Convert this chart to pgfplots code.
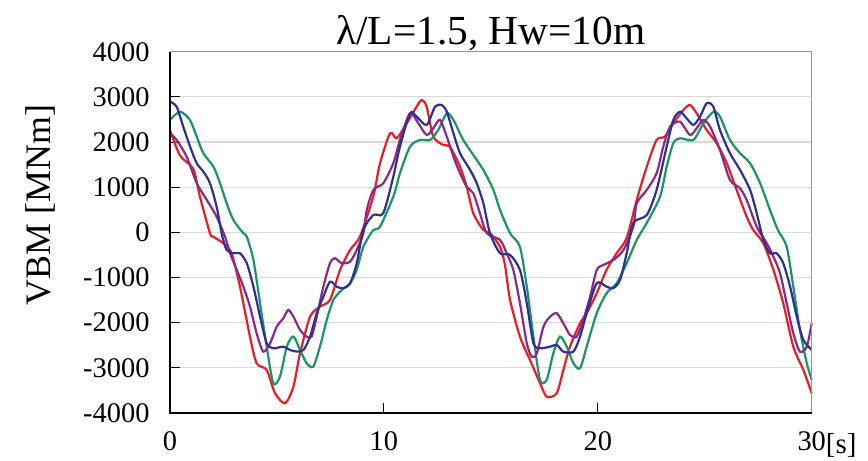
\documentclass[border=0pt]{standalone}
\usepackage{fontspec}
\setmainfont{Liberation Serif}
\usepackage{pgfplots}
\pgfplotsset{compat=1.18}
\definecolor{cred}{RGB}{237,28,36}
\definecolor{cgreen}{RGB}{24,150,100}
\definecolor{cblue}{RGB}{46,49,146}
\definecolor{cpurple}{RGB}{140,40,135}
\definecolor{cgrid}{RGB}{217,217,217}
\definecolor{cframe}{RGB}{150,150,150}
\begin{document}
\begin{tikzpicture}
\path[use as bounding box, fill=white] (-170bp,-48bp) rectangle (698bp,413bp);
\begin{axis}[
  scale only axis,
  width=641.7bp, height=361.3bp,
  at={(0,0)}, anchor=south west,
  xmin=0, xmax=30, ymin=-4000, ymax=4000,
  xtick={0,10,20,30}, xticklabels={0,10,20,30},
  ytick={-4000,-3000,...,4000},
  yticklabels={-4000,-3000,-2000,-1000,0,1000,2000,3000,4000},
  xtick pos=bottom, ytick pos=left,
  tick align=inside,
  major tick length=10bp,
  tick style={black, line width=1bp},
  ymajorgrids,
  major grid style={cgrid, line width=1.2bp},
  axis line style={draw=none},
  ticklabel style={font=\fontsize{28.5}{28.5}\selectfont},
  yticklabel style={xshift=-17bp},
  xticklabel style={yshift=-15bp},
  clip=false,
]
\addplot[cred, line width=2.2bp, smooth, tension=0.45] coordinates {
(0,2267) (0.47,1700) (1.09,1404) (1.40,790) (1.87,-20) (2.02,-95) (2.49,-241) (2.88,-463) (3.27,-1202) (3.74,-2309) (4.05,-2898) (4.52,-3046) (4.91,-3562) (5.38,-3784) (5.77,-3416) (6.08,-2677) (6.55,-1866) (7.01,-1645) (7.48,-1497) (7.95,-832) (8.42,-390) (8.88,-95) (9.50,790) (9.82,1530) (10.29,2194) (10.60,2083) (11.07,2415) (11.53,2783) (11.77,2931) (12.00,2783) (12.31,2119) (12.78,1935) (13.09,1897) (13.56,1455) (13.87,1012) (14.18,423) (14.65,53) (14.96,-20) (15.43,-317) (15.66,-722) (15.90,-1497) (16.36,-2309) (16.83,-2825) (17.30,-3341) (17.61,-3638) (18.08,-3562) (18.39,-3046) (18.70,-2531) (19.17,-2013) (19.48,-1791) (19.95,-1348) (20.41,-832) (20.88,-463) (21.35,-124) (21.82,717) (22.29,1455) (22.75,2046) (23.14,2119) (23.53,2415) (24.00,2710) (24.31,2821) (24.62,2637) (25.09,2267) (25.56,1973) (26.03,1530) (26.49,939) (26.96,348) (27.27,53) (27.74,-241) (28.21,-832) (28.67,-1570) (29.14,-2531) (29.61,-3046) (30.00,-3562)
};
\addplot[cgreen, line width=2.2bp, smooth, tension=0.45] coordinates {
(0,2489) (0.47,2672) (0.93,2489) (1.25,2119) (1.56,1751) (2.03,1455) (2.34,1087) (2.65,644) (2.96,275) (3.43,-20) (3.59,-95) (3.90,-611) (4.21,-1570) (4.52,-2531) (4.83,-3341) (5.14,-3195) (5.46,-2531) (5.77,-2309) (6.08,-2604) (6.39,-2898) (6.70,-2973) (7.01,-2531) (7.33,-1939) (7.64,-1497) (8.03,-1275) (8.42,-1127) (8.73,-832) (9.04,-317) (9.51,53) (9.82,126) (10.44,790) (10.75,1308) (11.22,1897) (11.69,2046) (12.16,2046) (12.54,2267) (12.94,2637) (13.25,2489) (13.71,2046) (14.18,1714) (14.65,1382) (15.12,939) (15.43,496) (15.90,-20) (16.36,-317) (16.68,-1202) (16.99,-2309) (17.30,-3268) (17.61,-3268) (17.92,-2677) (18.23,-2309) (18.55,-2531) (18.86,-2898) (19.17,-3009) (19.48,-2531) (19.95,-1791) (20.41,-1348) (20.88,-1127) (21.35,-684) (21.82,-168) (22.29,208) (22.91,790) (23.22,1455) (23.53,1973) (23.84,2083) (24.47,2046) (24.94,2415) (25.41,2672) (25.71,2562) (26.18,2046) (26.65,1751) (27.12,1530) (27.59,1087) (28.05,496) (28.42,53) (28.83,-317) (29.14,-1202) (29.45,-2161) (29.77,-2898) (30.00,-3268)
};
\addplot[cpurple, line width=2.2bp, smooth, tension=0.45] coordinates {
(0,2194) (0.31,2046) (0.78,1676) (1.25,1087) (1.72,717) (2.18,348) (2.57,-95) (2.81,-463) (3.12,-832) (3.43,-1202) (3.74,-1645) (4.05,-2234) (4.36,-2641) (4.68,-2455) (4.99,-2088) (5.30,-1902) (5.53,-1718) (5.77,-1866) (6.08,-2161) (6.39,-2309) (6.62,-2309) (6.86,-1866) (7.17,-1202) (7.48,-684) (7.71,-573) (8.03,-684) (8.42,-649) (8.73,-390) (9.04,-20) (9.20,496) (9.51,939) (9.97,1087) (10.44,1530) (10.75,2046) (11.22,2637) (11.61,2415) (12.00,2156) (12.31,2305) (12.62,2489) (12.94,2119) (13.25,1676) (13.56,1308) (13.87,1012) (14.18,866) (14.49,423) (14.81,-20) (15.43,-168) (15.74,-463) (16.05,-832) (16.36,-1570) (16.68,-2455) (16.91,-2752) (17.15,-2677) (17.46,-2088) (17.77,-1866) (18.08,-1791) (18.39,-2013) (18.70,-2272) (19.01,-2309) (19.32,-1939) (19.64,-1424) (19.95,-832) (20.26,-722) (20.73,-611) (21.20,-390) (21.66,126) (21.82,644) (22.29,939) (22.75,1308) (23.06,1897) (23.38,2340) (23.84,2451) (24.31,2156) (24.62,2305) (24.93,2489) (25.25,2340) (25.71,1824) (26.18,1160) (26.65,976) (26.96,717) (27.43,126) (27.90,-241) (28.21,-538) (28.52,-906) (28.83,-1570) (29.14,-2234) (29.45,-2641) (29.77,-2531) (30.00,-2013)
};
\addplot[cblue, line width=2.2bp, smooth, tension=0.45] coordinates {
(0,2894) (0.31,2783) (0.62,2340) (0.94,1897) (1.25,1530) (1.56,1344) (1.87,1087) (2.18,569) (2.43,-58) (2.65,-390) (2.96,-463) (3.27,-463) (3.59,-684) (3.90,-1202) (4.21,-1866) (4.52,-2455) (4.83,-2566) (5.30,-2531) (5.61,-2604) (5.93,-2641) (6.24,-2604) (6.55,-2309) (6.86,-1791) (7.17,-1424) (7.48,-1092) (7.79,-1202) (8.10,-1238) (8.42,-1127) (8.73,-684) (9.04,53) (9.51,385) (9.97,423) (10.44,1233) (10.75,1897) (11.22,2637) (11.53,2562) (12.00,2378) (12.39,2783) (12.70,2821) (12.94,2672) (13.25,2194) (13.56,1751) (14.03,1382) (14.34,1087) (14.65,644) (14.96,-20) (15.43,-463) (15.90,-500) (16.36,-832) (16.68,-1570) (16.99,-2455) (17.30,-2566) (17.77,-2531) (18.08,-2493) (18.39,-2641) (18.86,-2641) (19.17,-2309) (19.48,-1791) (19.95,-1127) (20.41,-1202) (20.72,-1238) (21.04,-1054) (21.35,-463) (21.66,208) (22.29,385) (22.75,939) (23.22,1897) (23.53,2489) (23.84,2672) (24.15,2526) (24.47,2378) (24.78,2562) (25.09,2858) (25.40,2783) (25.71,2267) (26.18,1751) (26.65,1382) (27.12,939) (27.43,423) (27.74,-168) (28.05,-463) (28.36,-463) (28.67,-684) (28.99,-1202) (29.30,-1866) (29.61,-2382) (30.00,-2604)
};
\draw[cframe, line width=1.5bp] (rel axis cs:0,1) -- (rel axis cs:1,1) -- (rel axis cs:1,0);
\draw[black, line width=1.5bp] (rel axis cs:0,1) -- (rel axis cs:0,0) -- (rel axis cs:1,0);
\node[anchor=base, font=\fontsize{41.5}{41.5}\selectfont] at ([yshift=7bp]rel axis cs:0.5,1) {λ/L=1.5, Hw=10m};
\node[rotate=90, anchor=center, font=\fontsize{36}{36}\selectfont] at ([xshift=-130bp]rel axis cs:0,0.576) {VBM [MNm]};
\node[anchor=base west, inner sep=0pt, font=\fontsize{29}{29}\selectfont] at ([xshift=14bp,yshift=-40bp]rel axis cs:1,0) {[s]};
\end{axis}
\end{tikzpicture}
\end{document}
